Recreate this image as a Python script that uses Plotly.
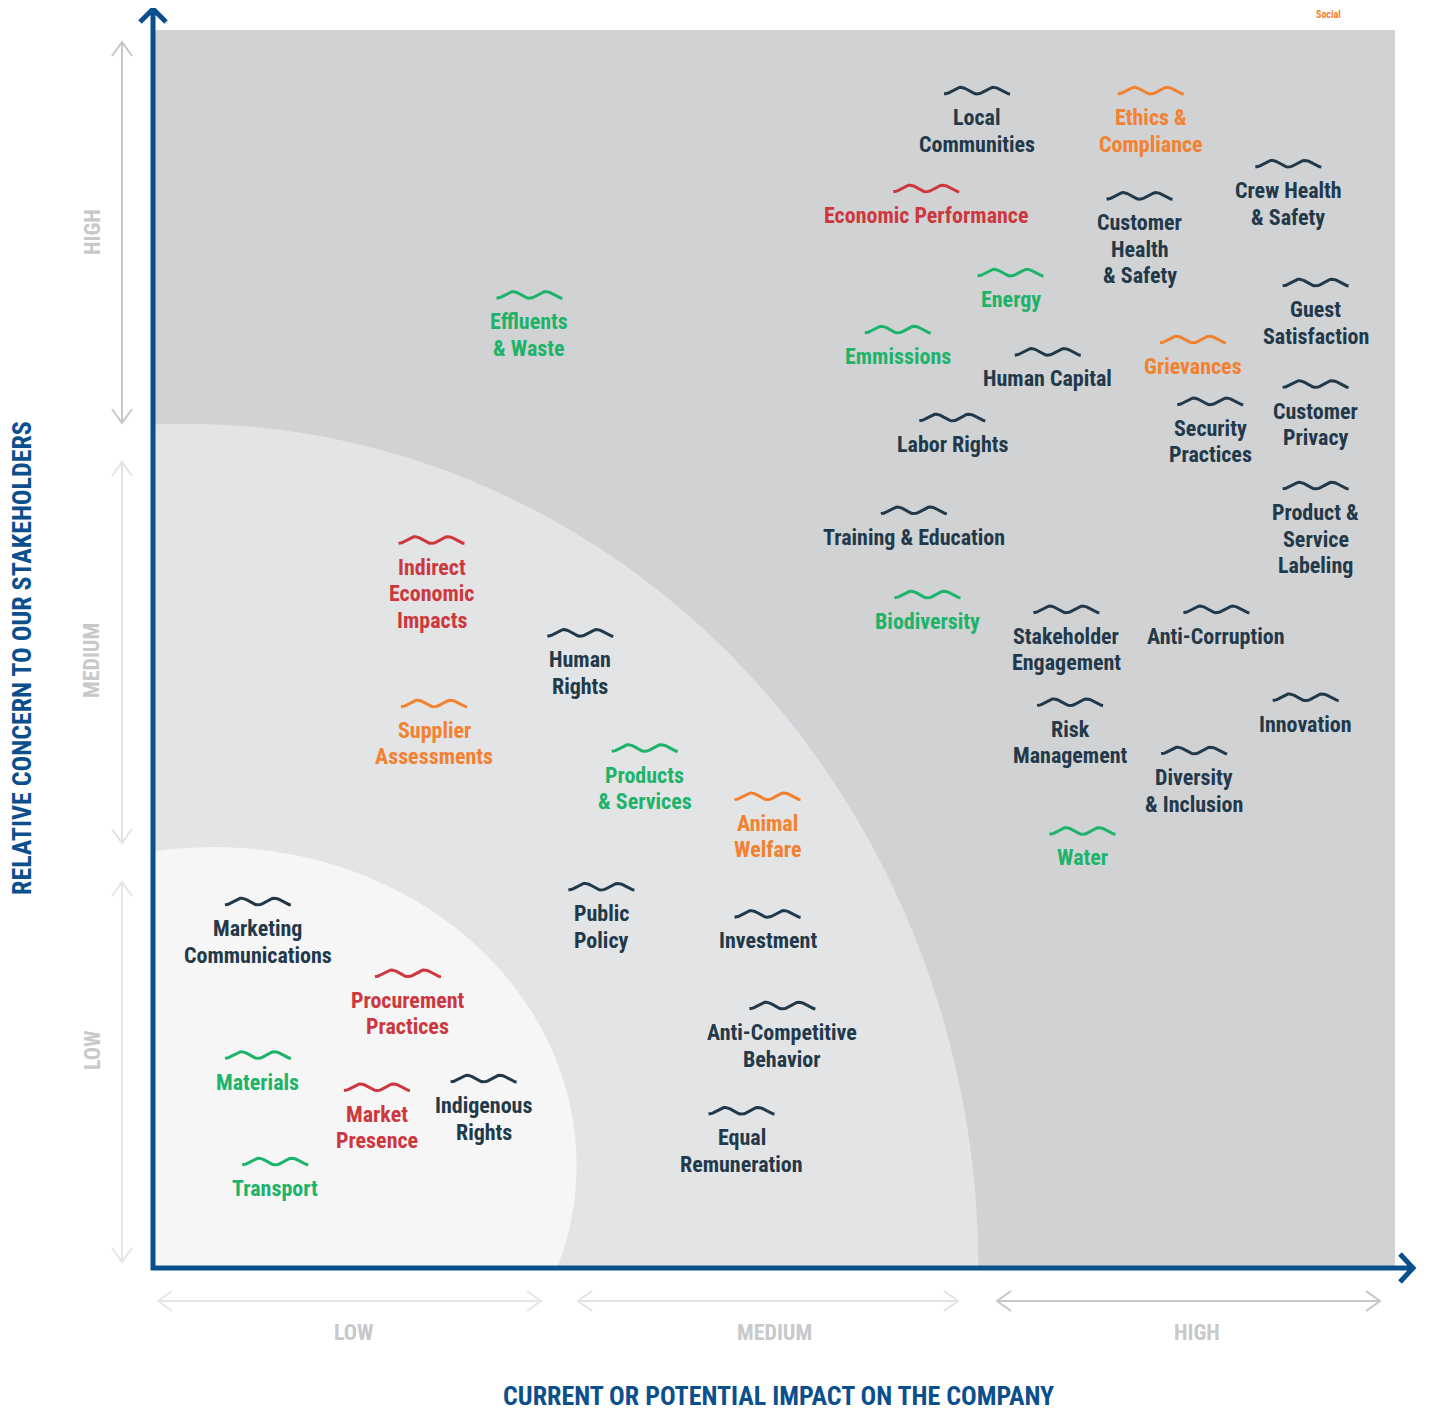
import numpy as np
import plotly.graph_objects as go

## Topics: impact on the company (x) and concern of stakeholders (y), both on a 0-10 scale.
## The position is the centre of the little wave that sits above each topic name.
economic_topics = ['Economic Performance', 'Indirect<br>Economic<br>Impacts', 'Procurement<br>Practices',
                   'Market<br>Presence']
economic_impact = [6.22, 2.23, 2.04, 1.79]
economic_concern = [8.72, 5.88, 2.38, 1.46]

environmental_topics = ['Energy', 'Emmissions', 'Effluents<br>& Waste', 'Biodiversity', 'Water',
                        'Products<br>& Services', 'Materials', 'Transport']
environmental_impact = [6.90, 5.99, 3.02, 6.23, 7.48, 3.95, 0.83, 0.97]
environmental_concern = [8.04, 7.58, 7.86, 5.44, 3.53, 4.20, 1.72, 0.86]

social_topics = ['Ethics &<br>Compliance', 'Grievances', 'Supplier<br>Assessments', 'Animal<br>Welfare']
social_impact = [8.03, 8.37, 2.25, 4.94]
social_concern = [9.51, 7.50, 4.56, 3.81]

general_topics = ['Local<br>Communities', 'Customer<br>Health<br>& Safety', 'Crew Health<br>& Safety',
                  'Guest<br>Satisfaction', 'Human Capital', 'Labor Rights', 'Security<br>Practices',
                  'Customer<br>Privacy', 'Product &<br>Service<br>Labeling', 'Training & Education',
                  'Stakeholder<br>Engagement', 'Anti-Corruption', 'Innovation', 'Risk<br>Management',
                  'Diversity<br>& Inclusion', 'Human<br>Rights', 'Public<br>Policy', 'Investment',
                  'Anti-Competitive<br>Behavior', 'Equal<br>Remuneration', 'Marketing<br>Communications',
                  'Indigenous<br>Rights']
general_impact = [6.63, 7.94, 9.14, 9.36, 7.20, 6.43, 8.51, 9.36, 9.36, 6.12, 7.35, 8.56, 9.28, 7.38,
                  8.38, 3.43, 3.60, 4.94, 5.06, 4.73, 0.83, 2.65]
general_concern = [9.51, 8.66, 8.92, 7.96, 7.40, 6.87, 7.00, 7.14, 6.32, 6.12, 5.32, 5.32, 4.61, 4.57,
                   4.18, 5.13, 3.08, 2.86, 2.12, 1.27, 2.96, 1.53]

level_labels = ['LOW', 'MEDIUM', 'HIGH']
x_title = 'CURRENT OR POTENTIAL IMPACT ON THE COMPANY'
y_title = 'RELATIVE CONCERN TO OUR STAKEHOLDERS'

## Colours
RED = '#cd383e'
GREEN = '#1db36b'
ORANGE = '#f28130'
NAVY = '#22394a'
BLUE = '#0b4f8c'
FONT = 'Noto Sans Condensed, Roboto Condensed, Open Sans Condensed, Liberation Sans Narrow, Roboto, sans-serif'

## Page geometry in pixels; the html body adds an 8px margin so the figure is a bit smaller
OFF = 8
W, H = 1430 - OFF, 1412 - OFF
L, R, T, B = 147, 35, 22, 144
PW, PH = W - L - R, H - T - B
X_UNIT = PW / 10.0
Y_UNIT = PH / 10.0


def paper(x, y):
    ## pixel on the page -> paper coordinates
    return (x - OFF - L) / PW, (H - B - (y - OFF)) / PH


def paper_path(*segments):
    ## each segment is a list of page pixel points, joined into one svg path in paper units
    out = ''
    for seg in segments:
        for i, (x, y) in enumerate(seg):
            px_, py_ = paper(x, y)
            out += ('M' if i == 0 else 'L') + '%.5f,%.5f ' % (px_, py_)
    return out.strip()


def page_text(x, y, text, size, color, angle=0):
    px_, py_ = paper(x, y)
    return dict(x=px_, y=py_, xref='paper', yref='paper', text=text, showarrow=False,
                xanchor='center', yanchor='middle', textangle=angle,
                font=dict(family=FONT, size=size, color=color, weight=700))


groups = [
    (economic_topics, economic_impact, economic_concern, RED),
    (environmental_topics, environmental_impact, environmental_concern, GREEN),
    (social_topics, social_impact, social_concern, ORANGE),
    (general_topics, general_impact, general_concern, NAVY),
]

fig = go.Figure()

## Waves above each topic name
t = np.linspace(0, 4 * np.pi, 40)
for topics, xs, ys, color in groups:
    wx, wy = [], []
    for x, y in zip(xs, ys):
        wx += list(x + np.linspace(-33, 33, len(t)) / X_UNIT) + [None]
        wy += list(y - 3.3 * np.cos(t) / Y_UNIT) + [None]
    fig.add_trace(go.Scatter(x=wx, y=wy, mode='lines', line=dict(color=color, width=3),
                             hoverinfo='skip', showlegend=False))

## Topic names, one annotation per line so the line spacing stays tight
annotations = []
for topics, xs, ys, color in groups:
    for name, x, y in zip(topics, xs, ys):
        for i, line in enumerate(name.split('<br>')):
            annotations.append(dict(x=x, y=y, xref='x', yref='y', text=line, showarrow=False,
                                    xanchor='center', yanchor='middle', yshift=-(27 + 26.5 * i),
                                    font=dict(family=FONT, size=22, color=color, weight=700)))

## Level labels along both axes
level_x = [354, 774, 1197]
level_y = [1050, 661, 232]
for lab, lx, ly in zip(level_labels, level_x, level_y):
    annotations.append(page_text(lx, 1332, lab, 22, '#c8c9cb'))
    annotations.append(page_text(92, ly, lab, 22, '#c8c9cb', angle=-90))

## Axis titles
annotations.append(page_text(778, 1396, x_title, 26, BLUE))
annotations.append(page_text(22, 658, y_title, 26, BLUE, angle=-90))

## Legend word near the very top of the page
annotations.append(page_text(1328, 15, 'Social', 10, ORANGE))

shapes = []
## Lighter quarter regions from the bottom-left corner
shapes.append(dict(type='circle', xref='x', yref='y', layer='below',
                   x0=0.24 - 6.40, x1=0.24 + 6.40, y0=-6.82, y1=6.82,
                   fillcolor='#e3e4e6', line=dict(width=0)))
shapes.append(dict(type='circle', xref='x', yref='y', layer='below',
                   x0=0.48 - 2.92, x1=0.48 + 2.92, y0=0.83 - 2.57, y1=0.83 + 2.57,
                   fillcolor='#f6f6f6', line=dict(width=0)))

## Grey double arrows for the LOW / MEDIUM / HIGH bands
h_spans = [(158, 541, '#e6e6e6'), (578, 958, '#e3e3e3'), (997, 1380, '#c6c7c8')]
for x0, x1, col in h_spans:
    yy = 1301
    shapes.append(dict(type='path', xref='paper', yref='paper', line=dict(color=col, width=2),
                       path=paper_path([(x0, yy), (x1, yy)],
                                       [(x0 + 14, yy - 10), (x0, yy), (x0 + 14, yy + 10)],
                                       [(x1 - 14, yy - 10), (x1, yy), (x1 - 14, yy + 10)])))
v_spans = [(882, 1262, '#e6e6e6'), (462, 843, '#e3e3e3'), (42, 423, '#c6c7c8')]
for y0, y1, col in v_spans:
    xx = 122
    shapes.append(dict(type='path', xref='paper', yref='paper', line=dict(color=col, width=2),
                       path=paper_path([(xx, y0), (xx, y1)],
                                       [(xx - 10, y0 + 14), (xx, y0), (xx + 10, y0 + 14)],
                                       [(xx - 10, y1 - 14), (xx, y1), (xx + 10, y1 - 14)])))

## Blue axes with open arrow heads
shapes.append(dict(type='path', xref='paper', yref='paper', line=dict(color=BLUE, width=5),
                   path=paper_path([(153, 1270), (153, 9)], [(140, 22), (153, 9), (166, 22)])))
shapes.append(dict(type='path', xref='paper', yref='paper', line=dict(color=BLUE, width=5),
                   path=paper_path([(151, 1268), (1413, 1268)], [(1400, 1254), (1413, 1268), (1400, 1282)])))

fig.update_layout(
    width=W, height=H,
    margin=dict(l=L, r=R, t=T, b=B, pad=0),
    paper_bgcolor='white',
    plot_bgcolor='#d1d2d4',
    showlegend=False,
    annotations=annotations,
    shapes=shapes,
    xaxis=dict(range=[0, 10], visible=False, fixedrange=True),
    yaxis=dict(range=[0, 10], visible=False, fixedrange=True),
)

fig.write_html('out.html')
